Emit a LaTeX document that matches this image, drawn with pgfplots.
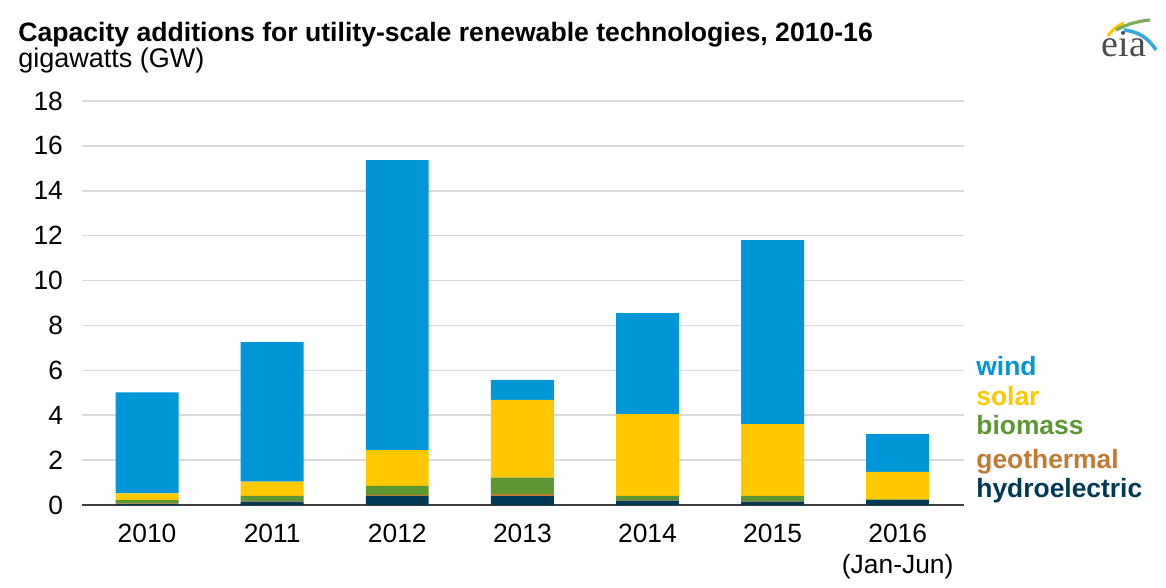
\documentclass[border=0pt]{standalone}
\usepackage{pgfplots}
\pgfplotsset{compat=1.18}
\usepackage{pgfplotstable}
\usepackage{fontspec}
\setmainfont{Liberation Sans}
\newfontfamily\logofont{Liberation Serif}

\definecolor{wind}{HTML}{0096D7}
\definecolor{solar}{HTML}{FFC800}
\definecolor{biomass}{HTML}{5D9732}
\definecolor{geo}{HTML}{C27A33}
\definecolor{hydro}{HTML}{003953}
\definecolor{gridgray}{HTML}{DADADA}

% year index, GW added
\pgfplotstableread{
x hydro geo bio solar wind
0 0.05 0.02 0.15 0.30 4.50
1 0.15 0.03 0.23 0.63 6.22
2 0.40 0.05 0.40 1.60 12.92
3 0.40 0.08 0.74 3.46 0.89
4 0.20 0.02 0.19 3.64 4.50
5 0.15 0.02 0.24 3.19 8.20
6 0.22 0.01 0.02 1.23 1.68
}\capdata

\begin{document}
\begin{tikzpicture}
\path (0,0) rectangle (583pt,-294pt);

\node[anchor=base west, font=\bfseries\fontsize{13.3}{16}\selectfont, inner sep=0pt]
  at (9pt,-21pt) {Capacity additions for utility-scale renewable technologies, 2010-16};
\node[anchor=base west, font=\fontsize{13.5}{16}\selectfont, inner sep=0pt]
  at (9pt,-34pt) {gigawatts (GW)};

\begin{axis}[
  at={(41pt,-252.5pt)}, anchor=south west,
  scale only axis, width=441pt, height=202pt,
  ybar stacked, bar width=0.503,
  xmin=-0.52, xmax=6.53, ymin=0, ymax=18,
  ytick={0,2,...,18},
  xtick={0,...,6},
  xticklabels={2010,2011,2012,2013,2014,2015,{2016\\(Jan-Jun)}},
  xticklabel style={align=center, yshift=-6pt},
  yticklabel style={xshift=-6pt},
  tick label style={font=\fontsize{13.2}{15.5}\selectfont},
  /pgf/number format/assume math mode=true,
  major tick length=0pt,
  ymajorgrids, grid style={gridgray, line width=0.8pt},
  axis x line*=bottom,
  axis y line*=left,
  y axis line style={draw=none},
  x axis line style={black!75, line width=1.2pt, -},
  clip=false,
]
\addplot[fill=hydro, draw=none] table[x=x, y=hydro] {\capdata};
\addplot[fill=geo, draw=none] table[x=x, y=geo] {\capdata};
\addplot[fill=biomass, draw=none] table[x=x, y=bio] {\capdata};
\addplot[fill=solar, draw=none] table[x=x, y=solar] {\capdata};
\addplot[fill=wind, draw=none] table[x=x, y=wind] {\capdata};
\end{axis}

\begin{scope}[every node/.style={anchor=base west, inner sep=0pt, font=\bfseries\fontsize{13.2}{16}\selectfont}]
\node[text=wind] at (488pt,-187.5pt) {wind};
\node[text=solar] at (488pt,-202.5pt) {solar};
\node[text=biomass] at (488pt,-217pt) {biomass};
\node[text=geo] at (488pt,-234pt) {geothermal};
\node[text=hydro] at (488pt,-248.5pt) {hydroelectric};
\end{scope}

% eia logo
\node[anchor=base, inner sep=0pt, text=black!70, font=\logofont\fontsize{19}{19}\selectfont]
  at (562pt,-28.5pt) {eia};
\draw[solar, line width=1.6pt] (554pt,-18pt) to[bend left=15] (562pt,-11.5pt);
\draw[biomass!80, line width=1.6pt] (558pt,-15pt) to[bend left=10] (575pt,-10pt);
\draw[wind!80, line width=1.8pt] (562pt,-15pt) to[bend left=25] (578pt,-25pt);
\end{tikzpicture}
\end{document}
